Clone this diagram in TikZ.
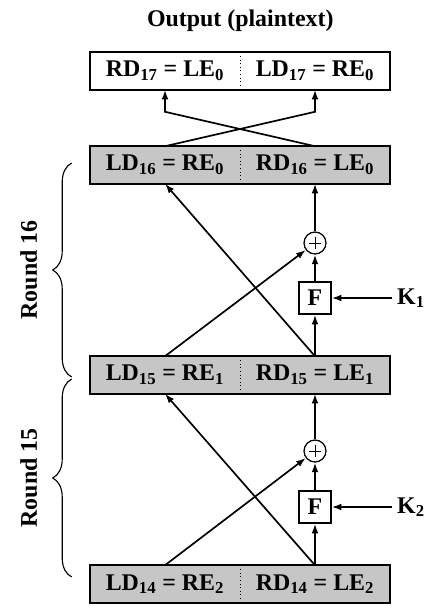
\documentclass[tikz,border=0pt]{standalone}
\usepackage{fontspec}
\setmainfont{Liberation Serif}
\usepackage{xcolor}
\usepackage{tikz}
\usetikzlibrary{calc, arrows.meta, positioning, decorations.pathreplacing}

\definecolor{boxgray}{RGB}{198,198,198}

\begin{document}
\begin{tikzpicture}[
    node distance=2.35cm,
    every node/.style={font=\fontsize{17}{20}\selectfont\bfseries},
    half/.style={minimum width=3.75cm, minimum height=0.925cm, inner sep=0pt},
    shaded/.style={half, fill=boxgray},
    frame/.style={draw=black, line width=1.5pt},
    fbox/.style={draw=black, fill=white, line width=1.1pt, minimum size=0.8cm, inner sep=0pt},
    xor/.style={circle, draw=black, fill=white, line width=0.9pt, minimum size=0.55cm, inner sep=0pt,
        path picture={\draw[line width=0.5pt]
            ($(path picture bounding box.center)+(0,0.16)$) -- ($(path picture bounding box.center)+(0,-0.16)$)
            ($(path picture bounding box.center)+(0.16,0)$) -- ($(path picture bounding box.center)+(-0.16,0)$);}},
    arr/.style={draw=black, line width=1.2pt, -{Latex[length=2.4mm, width=1.7mm]}},
    brace/.style={draw=black, line width=0.8pt, decorate, decoration={brace, amplitude=0.475cm}}
]
    \useasboundingbox (0,0) rectangle (10.775,-15.15);

    % data blocks
    \node [half] (l17) at (4.125,-1.775) {RD\textsubscript{17} = LE\textsubscript{0}};
    \node [half, right of=l17, node distance=3.75cm] (r17) {LD\textsubscript{17} = RE\textsubscript{0}};
    \node [shaded, below of=l17] (l16) {LD\textsubscript{16} = RE\textsubscript{0}};
    \node [shaded, right of=l16, node distance=3.75cm] (r16) {RD\textsubscript{16} = LE\textsubscript{0}};
    \node [shaded, below of=l16, node distance=5.25cm] (l15) {LD\textsubscript{15} = RE\textsubscript{1}};
    \node [shaded, right of=l15, node distance=3.75cm] (r15) {RD\textsubscript{15} = LE\textsubscript{1}};
    \node [shaded, below of=l15, node distance=5.225cm] (l14) {LD\textsubscript{14} = RE\textsubscript{2}};
    \node [shaded, right of=l14, node distance=3.75cm] (r14) {RD\textsubscript{14} = LE\textsubscript{2}};

    \node [above=0.5cm of l17.north east, inner sep=0pt] (title) {Output (plaintext)};

    \foreach \n in {17,16,15,14} {
        \draw [frame] (l\n.north west) rectangle (r\n.south east);
        \draw [dotted, line width=0.6pt] (l\n.north east) -- (l\n.south east);
    }

    % round function blocks
    \node [xor, below of=r16, node distance=1.95cm] (x16) {};
    \node [fbox, below of=r16, node distance=3.325cm] (f16) {F};
    \node [right of=f16, node distance=2.4cm] (k16) {K\textsubscript{1}};
    \node [xor, below of=r15, node distance=1.9cm] (x15) {};
    \node [fbox, below of=r15, node distance=3.3cm] (f15) {F};
    \node [right of=f15, node distance=2.4cm] (k15) {K\textsubscript{2}};

    % swap at the output
    \draw [arr] (l16.north) -- ($(r17.south)+(0,-0.55)$) -- (r17.south);
    \draw [arr] (r16.north) -- ($(l17.south)+(0,-0.55)$) -- (l17.south);

    % round 16
    \draw [arr] (r15.north) -- (f16.south);
    \draw [arr] (f16.north) -- (x16.south);
    \draw [arr] (x16.north) -- (r16.south);
    \draw [arr] (k16) -- (f16.east);
    \draw [arr] (l15.north) -- (x16);
    \draw [arr] (r15.north) -- (l16.south);

    % round 15
    \draw [arr] (r14.north) -- (f15.south);
    \draw [arr] (f15.north) -- (x15.south);
    \draw [arr] (x15.north) -- (r15.south);
    \draw [arr] (k15) -- (f15.east);
    \draw [arr] (l14.north) -- (x15);
    \draw [arr] (r14.north) -- (l15.south);

    % rounds
    \draw [brace] ($(l15.west)+(-0.45,-0.05)$) -- ($(l16.west)+(-0.45,0.05)$)
        node [midway, xshift=-1.075cm, rotate=90] {Round 16};
    \draw [brace] ($(l14.west)+(-0.45,0.175)$) -- ($(l15.west)+(-0.45,-0.1)$)
        node [midway, xshift=-1.075cm, rotate=90] {Round 15};
\end{tikzpicture}
\end{document}
